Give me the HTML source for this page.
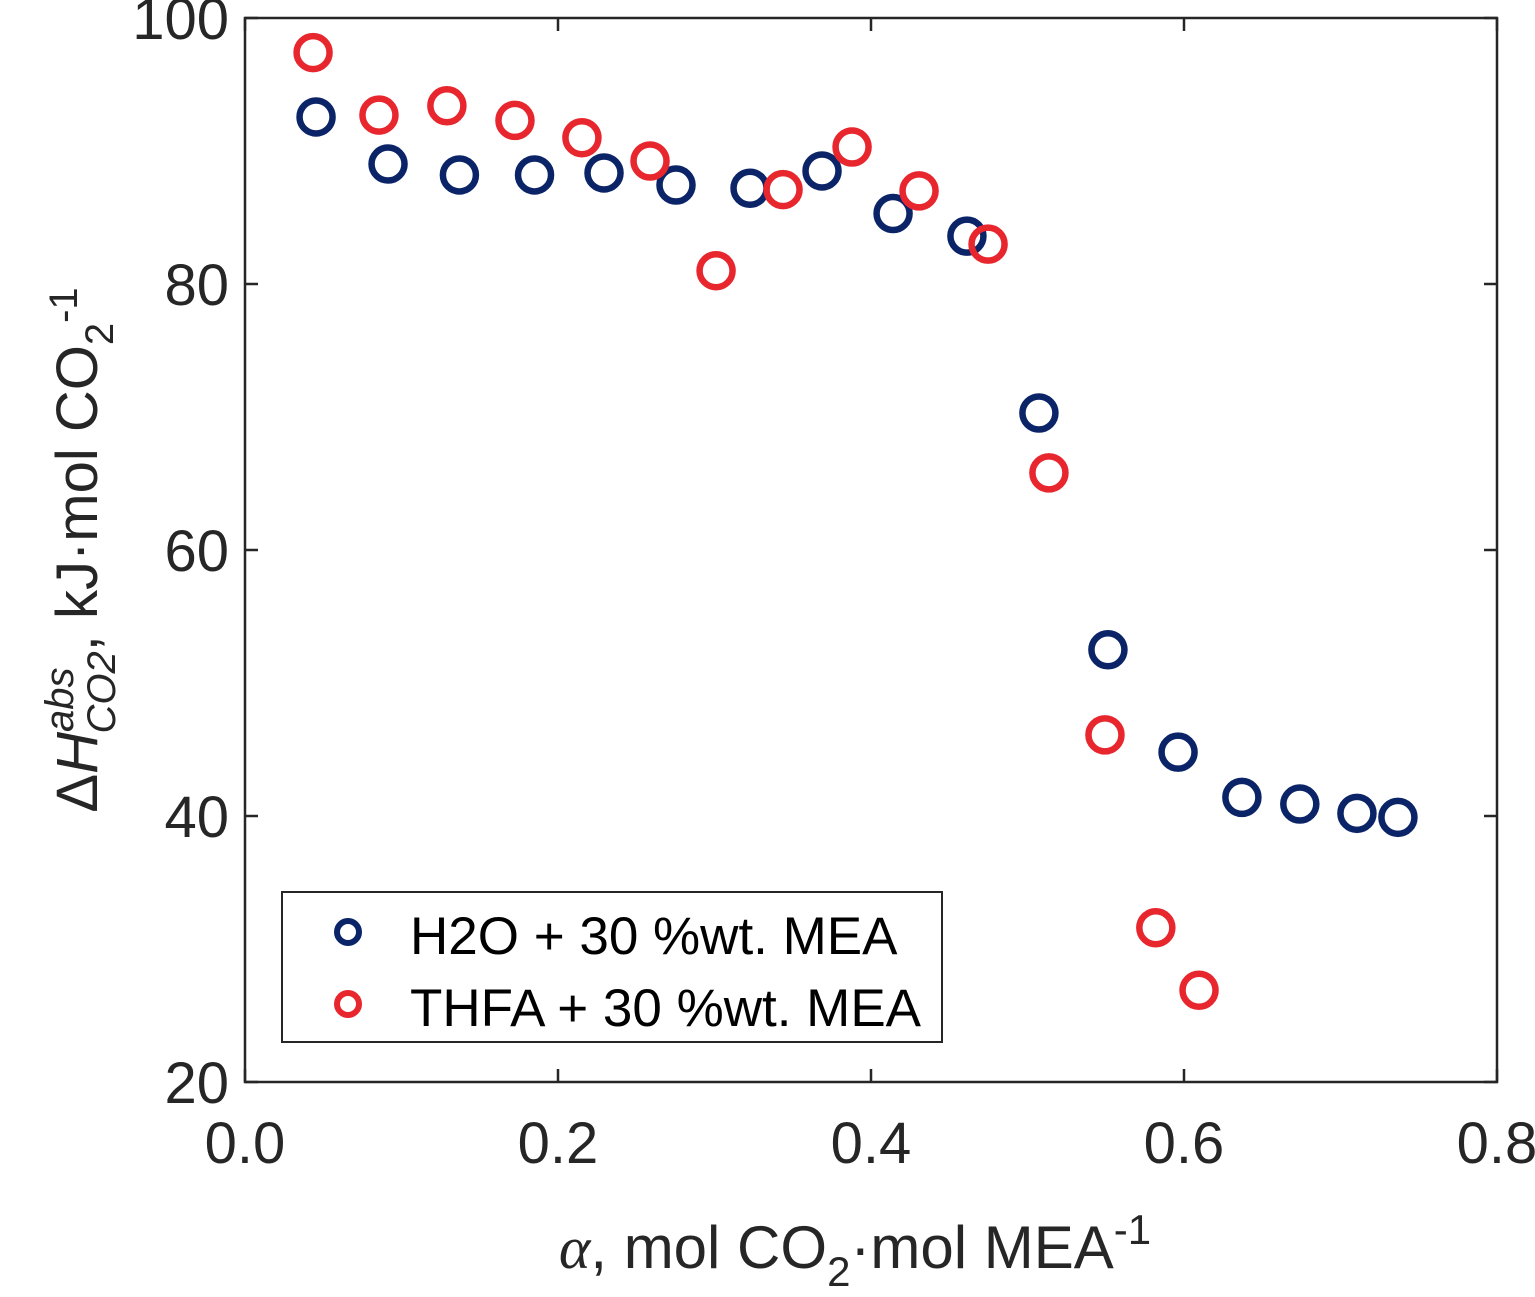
<!DOCTYPE html>
<html><head><meta charset="utf-8"><style>
body{margin:0;background:#fff}
svg{display:block;font-family:"Liberation Sans",Arial,sans-serif}
</style></head><body>
<svg id="chart" width="1535" height="1297" viewBox="0 0 1535 1297">
<rect x="245" y="18" width="1252" height="1064" fill="none" stroke="#262626" stroke-width="2.5"/>
<g id="ticks"></g>
<g id="marks"></g>
<text x="855" y="1268" text-anchor="middle" font-size="60" fill="#262626"><tspan font-family="Liberation Serif" font-style="italic">α</tspan>, mol CO<tspan font-size="42" dy="18">2</tspan><tspan dy="-18">·mol MEA</tspan><tspan font-size="42" dy="-24">-1</tspan></text>
<text transform="translate(97,550) rotate(-90)" text-anchor="middle" font-size="58" fill="#262626">Δ<tspan font-style="italic">H</tspan><tspan font-size="40" font-style="italic" dy="-24">abs</tspan><tspan font-size="40" font-style="italic" dx="-66" dy="42">CO2</tspan><tspan dy="-18">, kJ·mol CO</tspan><tspan font-size="40" dy="16">2</tspan><tspan font-size="40" dy="-36">-1</tspan></text>
<g>
<rect x="282" y="892" width="660" height="150" fill="#fff" stroke="#262626" stroke-width="2"/>
<circle cx="348" cy="932" r="11" fill="none" stroke="#0b2468" stroke-width="6"/>
<text x="410" y="954" font-size="53" fill="#000">H2O + 30 %wt. MEA</text>
<circle cx="348" cy="1004" r="11" fill="none" stroke="#e8262e" stroke-width="6"/>
<text x="410" y="1026" font-size="53" fill="#000">THFA + 30 %wt. MEA</text>
</g>
</svg>
<script>
const xTicks=[0,0.2,0.4,0.6,0.8];
const xTickLabels=["0.0","0.2","0.4","0.6","0.8"];
const yTicks=[20,40,60,80,100];
const yTickLabels=["20","40","60","80","100"];
const h2oX=[0.0454,0.0914,0.137,0.185,0.2294,0.2754,0.3227,0.3687,0.4141,0.4613,0.5073,0.5514,0.5962,0.637,0.674,0.7105,0.7367];
const h2oY=[92.56,89.02,88.2,88.2,88.35,87.44,87.2,88.5,85.3,83.6,70.3,52.5,44.8,41.4,40.9,40.2,39.9];
const thfaX=[0.0435,0.0856,0.129,0.1725,0.2153,0.2588,0.301,0.3438,0.3879,0.4307,0.4748,0.5137,0.5495,0.582,0.6096];
const thfaY=[97.4,92.7,93.4,92.3,91.0,89.25,81.0,87.1,90.3,87.0,83.0,65.8,46.1,31.6,26.9];
const NS="http://www.w3.org/2000/svg";
const X=v=>245+v/0.8*1252, Y=v=>1082-(v-20)/80*1064;
const tg=document.getElementById('ticks'), mg=document.getElementById('marks');
function mk(t,a,p){const e=document.createElementNS(NS,t);for(const k in a)e.setAttribute(k,a[k]);p.appendChild(e);return e;}
xTicks.forEach((v,i)=>{
 let l=mk('line',{x1:X(v),x2:X(v),y1:1082,y2:1069,stroke:'#262626','stroke-width':2.5},tg);
 
 
 let l2=mk('line',{x1:X(v),x2:X(v),y1:18,y2:31,stroke:'#262626','stroke-width':2.5},tg);
 
 
 let t=mk('text',{x:X(v),y:1163,'text-anchor':'middle','font-size':58,fill:'#262626'},tg);t.textContent=xTickLabels[i];
 
 
});
yTicks.forEach((v,i)=>{
 let l=mk('line',{x1:245,x2:258,y1:Y(v),y2:Y(v),stroke:'#262626','stroke-width':2.5},tg);
 
 
 let l2=mk('line',{x1:1484,x2:1497,y1:Y(v),y2:Y(v),stroke:'#262626','stroke-width':2.5},tg);
 
 
 let t=mk('text',{x:229,y:Y(v)+21,'text-anchor':'end','font-size':58,fill:'#262626'},tg);t.textContent=yTickLabels[i];
 
 
});
function series(xs,ys,col,name){xs.forEach((v,i)=>{
 let c=mk('circle',{cx:X(v),cy:Y(ys[i]),r:16.5,fill:'none',stroke:col,'stroke-width':6.5},mg);
 
 
});}
series(h2oX,h2oY,'#0b2468','point-h2o');
series(thfaX,thfaY,'#e8262e','point-thfa');
</script>
</body></html>
